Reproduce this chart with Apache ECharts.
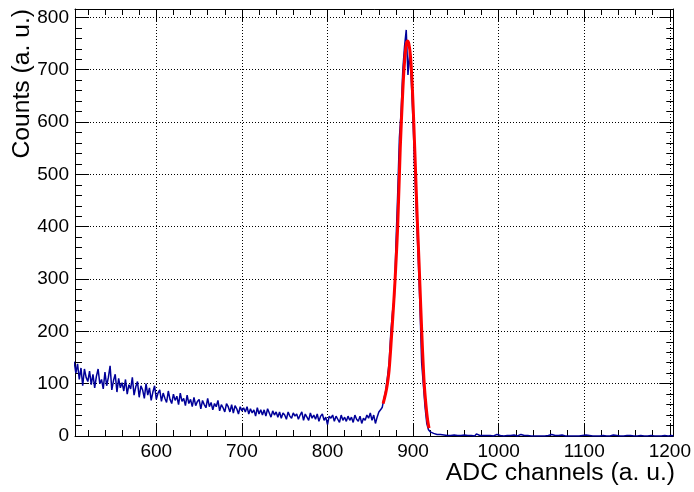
<!DOCTYPE html>
<html>
<head>
<meta charset="utf-8">
<script src="https://cdn.jsdelivr.net/npm/echarts@6/dist/echarts.min.js"></script>
<style>
html,body{margin:0;padding:0;background:#fff;}
#chart{width:694px;height:492px;}
</style>
</head>
<body>
<div id="chart"></div>
<script>
// Histogram binning (ADC channels)
const BIN_LO = 504;
const BIN_W = 2;
// Counts per bin (bins of 2 channels starting at 504)
const counts_504_604 = [
  142,120,138,108,130,96,128,112,104,124,
  98,118,92,114,128,100,108,90,122,96,
  112,134,88,106,118,84,110,92,102,86,
  108,80,98,90,112,78,94,104,74,96,
  88,72,100,78,92,68,84,96,70,82];
const counts_604_704 = [
  88,66,82,72,64,86,70,62,80,68,
  76,60,82,66,72,58,78,62,70,56,
  74,58,66,70,52,68,60,54,72,56,
  64,50,62,56,68,48,60,54,46,62,
  56,46,60,44,58,52,42,56,48,54];
const counts_704_804 = [
  46,56,42,52,44,50,38,54,42,50,
  40,50,38,52,44,36,48,40,46,36,
  46,34,44,40,32,46,38,34,44,38,
  42,32,40,46,30,42,36,30,44,34,
  40,32,42,28,38,42,30,36,22,38];
const counts_804_864 = [
  34,40,28,38,32,26,40,30,36,28,
  38,30,36,26,40,32,28,38,24,34,
  30,40,34,44,30,40,24,36,46,50];
const counts_864_924 = [
  55,72,86,112,140,198,238,262,368,462,
  570,620,700,744,776,690,735,676,600,505,
  420,340,250,140,98,55,24,12,8,5];
const counts_924_1204 = [
  4,3,2,3,1,2,4,1,2,1,
  1,2,0,1,3,1,0,2,1,1,
  0,1,2,0,1,4,1,0,1,2,
  1,0,1,2,0,1,3,0,1,1,
  0,2,1,0,1,0,2,1,0,1,
  3,0,1,0,1,2,0,1,0,1,
  0,1,0,2,0,1,1,0,3,0,
  1,0,1,0,2,0,0,1,0,1,
  0,2,0,1,0,0,1,0,2,0,
  1,0,0,3,0,1,0,0,1,0,
  0,1,0,0,2,0,1,0,0,1,
  0,0,1,0,1,0,0,2,0,0,
  1,0,0,1,0,0,1,0,0,1,
  0,1,0,0,1,0,0,0,1,0];
const counts = [].concat(counts_504_604, counts_604_704, counts_704_804, counts_804_864, counts_864_924, counts_924_1204);

// Fit curve points
const fitX = [865,868,870,872,875,877,879,882,885,888,890,892,893.5,895,897,899,901,903,905,907,909,911,913,915,917,918.6];
const fitY = [62,82,100,126,195,245,300,400,550,660,715,748,755,750,725,670,590,500,410,330,245,165,100,60,30,15];

// Axis settings
const X_MIN = 505, X_MAX = 1204;
const Y_MIN = 0, Y_MAX = 816, Y_STEP = 100;
const xTitle = 'ADC channels (a. u.)';
const yTitle = 'Counts (a. u.)';

const histData = counts.map((c, i) => [BIN_LO + i * BIN_W, c]);
histData.push([BIN_LO + counts.length * BIN_W, counts[counts.length - 1]]);
const fitData = fitX.map((x, i) => [x, fitY[i]]);

const FONT = 'Liberation Sans, Arial, Helvetica, sans-serif';
const chart = echarts.init(document.getElementById('chart'), null, {renderer: 'canvas'});

function xAxisDef(pos, showLabels) {
  return {
    type: 'value', position: pos, min: X_MIN, max: X_MAX, splitNumber: 7,
    axisLine: {show: true, onZero: false, lineStyle: {color: '#000', width: 1}},
    axisTick: {show: true, inside: true, length: 12, lineStyle: {color: '#000', width: 1}},
    minorTick: {show: true, splitNumber: 5, length: 6, lineStyle: {color: '#000', width: 1}},
    splitLine: {show: showLabels, lineStyle: {color: '#000', width: 1, type: [1, 2]}},
    axisLabel: {show: showLabels, color: '#000', fontSize: 19, fontFamily: FONT, margin: 6,
      formatter: v => (Math.abs(v % 100) < 1e-6 ? String(v) : '')}
  };
}
function yAxisDef(pos, showLabels) {
  return {
    type: 'value', position: pos, min: Y_MIN, max: Y_MAX, interval: Y_STEP,
    axisLine: {show: true, onZero: false, lineStyle: {color: '#000', width: 1}},
    axisTick: {show: true, inside: true, length: 14, lineStyle: {color: '#000', width: 1}},
    minorTick: {show: true, splitNumber: 5, length: 7, lineStyle: {color: '#000', width: 1}},
    splitLine: {show: showLabels, lineStyle: {color: '#000', width: 1, type: [1, 2]}},
    axisLabel: {show: showLabels, color: '#000', fontSize: 19, fontFamily: FONT, margin: 6,
      formatter: v => (Math.abs(v % 100) < 1e-6 ? String(v) : '')}
  };
}

chart.setOption({
  animation: false,
  backgroundColor: '#fff',
  grid: {left: 75, right: 19, top: 9, bottom: 56, containLabel: false},
  xAxis: [xAxisDef('bottom', true), xAxisDef('top', false)],
  yAxis: [yAxisDef('left', true), yAxisDef('right', false)],
  graphic: [
    {type: 'text', x: 675, y: 473, z: 10,
      style: {text: xTitle, font: '24.7px ' + FONT, fill: '#000', textAlign: 'right', textVerticalAlign: 'middle'}},
    {type: 'text', x: 22, y: 9, rotation: Math.PI / 2, z: 10,
      style: {text: yTitle, font: '24.7px ' + FONT, fill: '#000', textAlign: 'right', textVerticalAlign: 'middle'}}
  ],
  series: [
    {type: 'line', data: histData, step: 'end', showSymbol: false, symbol: 'none',
      lineStyle: {color: '#000099', width: 1.5}, itemStyle: {color: '#000099'}, z: 3, clip: true},
    {type: 'line', data: fitData, smooth: 0.35, showSymbol: false, symbol: 'none',
      lineStyle: {color: '#ff0000', width: 3}, itemStyle: {color: '#ff0000'}, z: 4, clip: true}
  ]
});
</script>
</body>
</html>
